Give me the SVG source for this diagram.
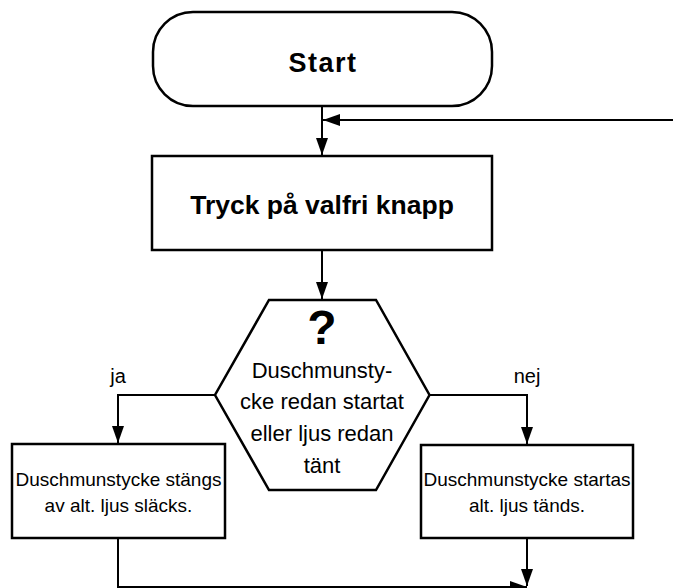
<svg xmlns="http://www.w3.org/2000/svg" width="673" height="588" viewBox="0 0 673 588">
<style>
.shape{fill:#fff;stroke:#000;stroke-width:2.5}
.conn{fill:none;stroke:#000;stroke-width:2}
.t{font-family:"Liberation Sans",Arial,sans-serif;fill:#000;text-anchor:middle}
.b{font-weight:bold}
</style>
<defs>
<marker id="arr" viewBox="0 0 17 12" refX="17" refY="6" markerWidth="17" markerHeight="12" markerUnits="userSpaceOnUse" orient="auto">
<path d="M0,0 L17,6 L0,12 Z" fill="#000"/>
</marker>
</defs>
<g id="connectors">
<path class="conn" d="M322,106 V155" marker-end="url(#arr)"/>
<path class="conn" d="M673,120 H323" marker-end="url(#arr)"/>
<path class="conn" d="M322,250 V299" marker-end="url(#arr)"/>
<path class="conn" d="M215,395 H118 V443" marker-end="url(#arr)"/>
<path class="conn" d="M430,395 H527 V444" marker-end="url(#arr)"/>
<path class="conn" d="M118,538 V587 H527" marker-end="url(#arr)"/>
<path class="conn" d="M527,538 V586" marker-end="url(#arr)"/>
</g>
<g id="start">
<rect class="shape" x="153" y="12" width="339" height="94" rx="40" ry="40"/>
<text class="t b" x="323" y="72" font-size="27" letter-spacing="1.5">Start</text>
</g>
<g id="tryck">
<rect class="shape" x="152" y="156" width="340" height="94"/>
<text class="t b" x="322" y="214" font-size="26.5">Tryck på valfri knapp</text>
</g>
<g id="decision">
<polygon class="shape" points="269,300 376,300 429.5,395 376,490 269,490 215,395"/>
<text class="t b" x="322" y="344" font-size="48">?</text>
<text class="t" x="322" y="378" font-size="22">Duschmunsty-</text>
<text class="t" x="322" y="409" font-size="22">cke redan startat</text>
<text class="t" x="322" y="441" font-size="22">eller ljus redan</text>
<text class="t" x="322" y="473" font-size="22">tänt</text>
</g>
<g id="ja-label">
<text class="t" x="118" y="383" font-size="20">ja</text>
</g>
<g id="nej-label">
<text class="t" x="527" y="383" font-size="20">nej</text>
</g>
<g id="off">
<rect class="shape" x="12" y="444" width="213" height="94"/>
<text class="t" x="118.5" y="486" font-size="19">Duschmunstycke stängs</text>
<text class="t" x="118.5" y="512" font-size="19">av alt. ljus släcks.</text>
</g>
<g id="on">
<rect class="shape" x="421" y="445" width="212" height="93"/>
<text class="t" x="527" y="486" font-size="19">Duschmunstycke startas</text>
<text class="t" x="527" y="512" font-size="19">alt. ljus tänds.</text>
</g>
</svg>
